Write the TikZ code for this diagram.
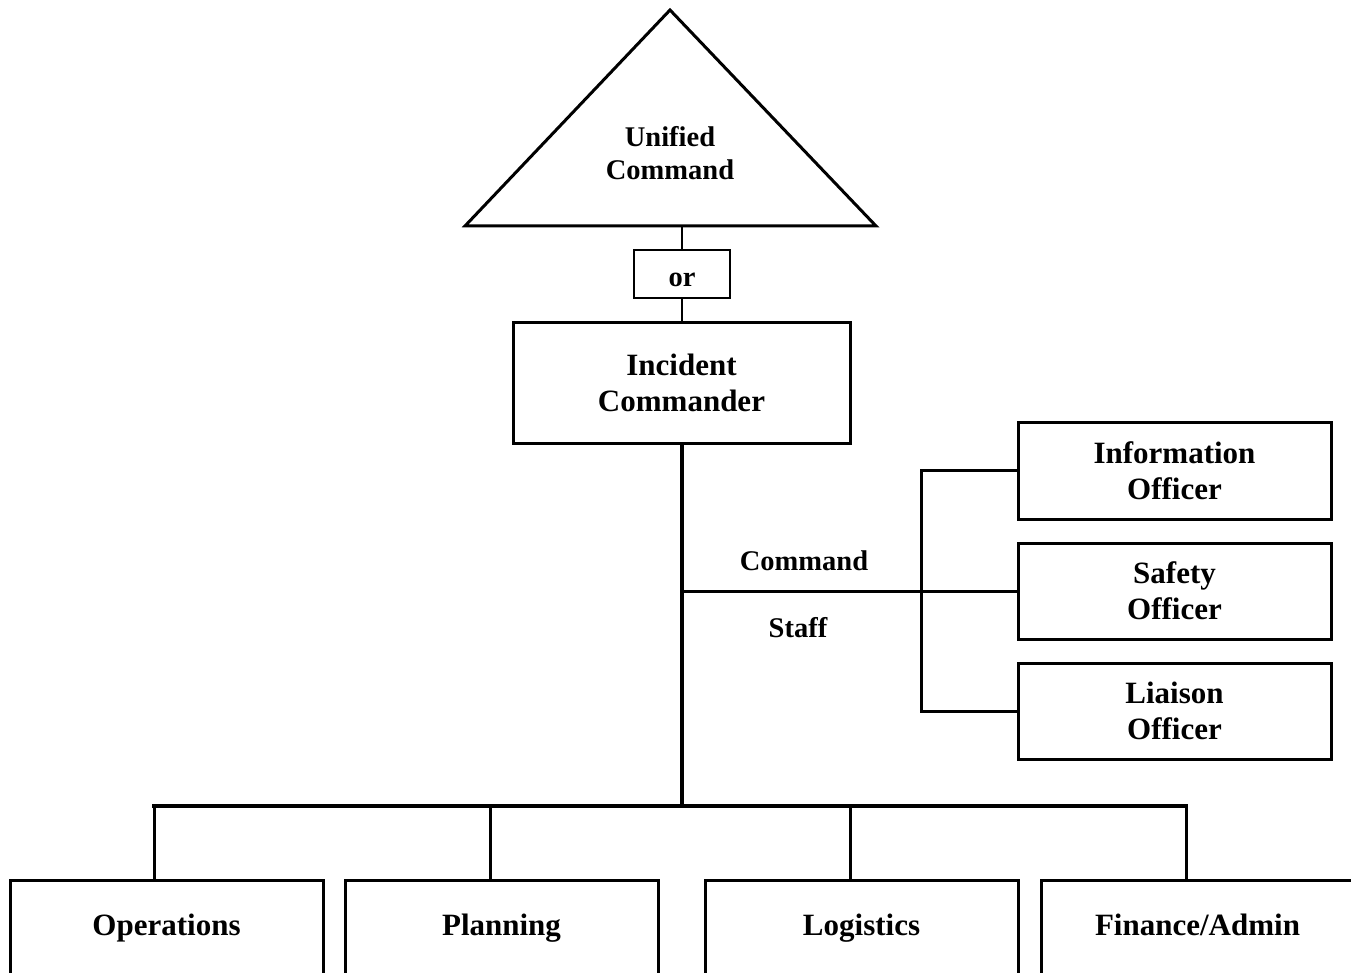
\documentclass[tikz,border=0pt]{standalone}
\usepackage{fontspec}
\setmainfont{Liberation Serif}
\begin{document}
\begin{tikzpicture}[x=1pt,y=-1pt,
  line join=miter,
  bigtext/.style={font=\bfseries\fontsize{31}{36}\selectfont, align=center},
  smalltext/.style={font=\bfseries\fontsize{28.5}{33}\selectfont, align=center},
  box/.style={draw, line width=3pt, inner sep=0pt, bigtext},
  orbox/.style={draw, line width=1.6pt, inner sep=0pt, smalltext, minimum width=96pt, minimum height=48pt, text height=26pt, text depth=0pt},
  offbox/.style={box, minimum width=313pt, minimum height=96pt},
  secbox/.style={box, anchor=north, minimum width=313pt, text height=55pt, text depth=80pt},
  conn/.style={line width=3pt},
  mainconn/.style={line width=4pt},
  lbl/.style={smalltext, inner sep=0pt}]
\clip (0,0) rectangle (1351,973);
% Unified command triangle
\coordinate (tL) at (465,226);
\coordinate (tA) at (670,10);
\coordinate (tR) at (876,226);
\coordinate (ucbase) at (682,226);
\draw[line width=3pt] (tL) -- (tA) -- (tR) -- cycle;
\node[smalltext, inner sep=0pt] (uc) at (670,153) {Unified\\Command};
% or and incident commander
\node[orbox] (or) at (682,274) {or};
\node[box, minimum width=337pt, minimum height=120pt] (ic) at (681.5,383) {Incident\\Commander};
% command staff
\node[offbox, minimum height=97pt] (info) at (1174.5,470.5) {Information\\Officer};
\node[offbox] (safety) at (1174.5,591) {Safety\\Officer};
\node[offbox] (liaison) at (1174.5,711) {Liaison\\Officer};
\node[lbl] (cmd) at (804,561) {Command};
\node[lbl] (staff) at (798,628) {Staff};
% sections
\node[secbox] (ops) at (166.5,879) {Operations};
\node[secbox] (plan) at (501.5,879) {Planning};
\node[secbox] (log) at (861.5,879) {Logistics};
\node[secbox] (fin) at (1197.5,879) {Finance/Admin};
% connectors
\draw[conn, line width=2.5pt] (ucbase) -- (ucbase |- or.north);
\draw[conn, line width=2.5pt] (or.south) -- (or.south |- ic.north);
\coordinate (barL) at (154,806);
\coordinate (barR) at (1186,806);
\coordinate (bar2) at (490,806);
\coordinate (bar3) at (850,806);
\coordinate (sv) at (921,591);
\draw[mainconn] (ic.south) -- (ic.south |- barL);
\draw[mainconn, line cap=rect] (barL) -- (barR);
\draw[conn] (barL) -- (barL |- ops.north);
\draw[conn] (bar2) -- (bar2 |- plan.north);
\draw[conn] (bar3) -- (bar3 |- log.north);
\draw[conn] (barR) -- (barR |- fin.north);
\draw[conn] (ic.south |- safety.west) -- (safety.west);
\draw[conn] (info.west) -| (sv) |- (liaison.west);
\end{tikzpicture}
\end{document}
